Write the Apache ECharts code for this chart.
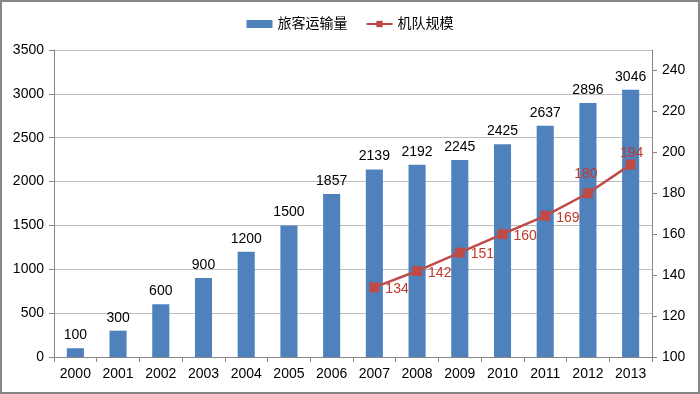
<!DOCTYPE html>
<html><head><meta charset="utf-8">
<script src="https://cdn.jsdelivr.net/npm/echarts@6/dist/echarts.min.js"></script>
<style>html,body{margin:0;padding:0;background:#fff}#c{width:700px;height:394px;box-sizing:border-box;border:2px solid #868686;}</style>
</head><body><div id="c"></div>
<script>
var years = ['2000','2001','2002','2003','2004','2005','2006','2007','2008','2009','2010','2011','2012','2013'];
var passengers = [100,300,600,900,1200,1500,1857,2139,2192,2245,2425,2637,2896,3046];
var fleet = [null,null,null,null,null,null,null,134,142,151,160,169,180,194];
var leftTicks = [0,500,1000,1500,2000,2500,3000,3500];
var rightTicks = [100,120,140,160,180,200,220,240];

var font = 'Liberation Sans, Noto Sans CJK SC, sans-serif';
var labelPlace = {
  '2012':{position:'top',distance:7,offset:[-2,0]},
  '2013':{position:'top',distance:-1,offset:[1,0]}
};
var chart = echarts.init(document.getElementById('c'));
chart.setOption({
  animation:false,
  textStyle:{fontFamily:font},
  legend:{top:10,left:'center',itemGap:18,itemWidth:26,itemHeight:8,
    textStyle:{fontSize:14,color:'#000',fontFamily:font},
    data:[{name:'旅客运输量',icon:'rect'},{name:'机队规模'}]},
  grid:{left:52,right:46,top:48,bottom:35},
  xAxis:{type:'category',data:years,
    axisLine:{lineStyle:{color:'#868686'}},
    axisTick:{show:true,length:5,lineStyle:{color:'#868686'}},
    axisLabel:{color:'#000',fontSize:14,margin:10}},
  yAxis:[{type:'value',min:leftTicks[0],max:leftTicks[leftTicks.length-1],interval:500,
    axisLine:{show:true,lineStyle:{color:'#868686'}},
    axisTick:{show:true,length:5,lineStyle:{color:'#868686'}},
    axisLabel:{color:'#000',fontSize:14,margin:10,formatter:function(v){return String(v);}},
    splitLine:{lineStyle:{color:'#bfbfbf'}}},
   {type:'value',min:100,max:250,interval:10,position:'right',
    axisLine:{show:true,lineStyle:{color:'#868686'}},
    axisTick:{show:true,length:5,customValues:rightTicks,lineStyle:{color:'#868686'}},
    axisLabel:{color:'#000',fontSize:14,margin:10,customValues:rightTicks},
    splitLine:{show:false}}],
  series:[{name:'旅客运输量',type:'bar',data:passengers,barWidth:'40%',
    itemStyle:{color:'#4f81bd'},
    label:{show:true,position:'top',distance:6,color:'#000',fontSize:14,fontFamily:font}},
   {name:'机队规模',type:'line',yAxisIndex:1,
    data:fleet.map(function(v,i){
      var p = labelPlace[years[i]] || {position:'right',distance:6,offset:[0,2]};
      return {value:v,label:p};
    }),
    symbol:'rect',symbolSize:10,
    lineStyle:{color:'#be4b48',width:2.5},
    itemStyle:{color:'#be4b48'},
    label:{show:true,color:'#c0392b',fontSize:14,fontFamily:font}}]
});
</script></body></html>
